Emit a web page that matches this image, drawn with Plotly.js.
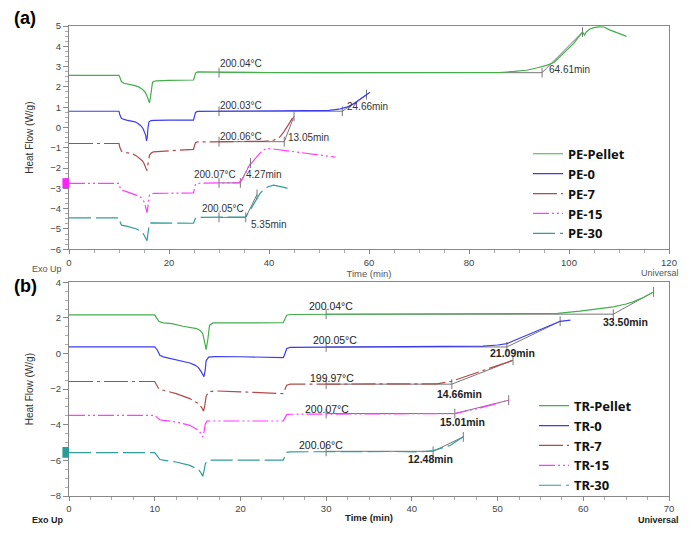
<!DOCTYPE html>
<html>
<head>
<meta charset="utf-8">
<script src="https://cdn.plot.ly/plotly-3.0.1.min.js"></script>
<style>
  body { margin: 0; background: #fff; }
  #dsc { width: 695px; height: 537px; }
</style>
</head>
<body>
<div id="dsc"></div>
<script>
// (a) PE samples : time (min) / heat flow (W/g)
var peNames = ['PE-Pellet', 'PE-0', 'PE-7', 'PE-15', 'PE-30'];
var pePelletX = [0, 10, 10.2, 10.5, 11, 12, 12.5, 13.2, 13.9, 14.6, 15.2, 15.6, 15.9, 16.1, 16.3, 16.5, 16.7, 17.0, 17.5, 20, 24.9, 25.1, 25.3, 25.7, 30, 40, 50, 60, 70, 80, 86, 89, 91.5, 93.5, 95.5, 97, 98.2, 99.5, 100.9, 102, 102.7, 103.1, 103.5, 104.2, 105, 106, 107, 108, 109.5, 111.5];
var pePelletY = [2.57, 2.57, 2.45, 2.25, 2.18, 2.15, 2.1, 2.06, 2.0, 1.9, 1.75, 1.55, 1.34, 1.21, 1.5, 1.95, 2.22, 2.28, 2.3, 2.32, 2.34, 2.5, 2.68, 2.74, 2.72, 2.71, 2.7, 2.7, 2.69, 2.69, 2.71, 2.76, 2.82, 2.93, 3.06, 3.2, 3.47, 3.8, 4.13, 4.45, 4.7, 4.55, 4.72, 4.85, 4.92, 4.96, 4.95, 4.82, 4.68, 4.49];
var pe0X = [0, 10, 10.2, 10.5, 11.5, 12.5, 13.2, 13.8, 14.3, 14.8, 15.1, 15.35, 15.5, 15.65, 15.8, 16.0, 16.4, 17, 20, 24.9, 25.1, 25.3, 25.7, 30, 40, 48, 52, 54, 55.5, 57, 58.5, 60.2];
var pe0Y = [0.8, 0.8, 0.6, 0.44, 0.36, 0.32, 0.28, 0.2, 0.1, -0.05, -0.2, -0.4, -0.66, -0.5, 0.0, 0.28, 0.34, 0.35, 0.36, 0.36, 0.55, 0.74, 0.79, 0.8, 0.8, 0.81, 0.84, 0.9, 1.0, 1.17, 1.43, 1.74];
var pe7X = [0, 10, 10.2, 10.5, 11.5, 12.5, 13.5, 14.2, 14.7, 15.0, 15.3, 15.6, 15.8, 16.1, 16.5, 16.9, 20, 24.9, 25.1, 25.3, 25.7, 30, 35, 39, 41, 42.2, 43, 43.7, 44.3, 44.9, 45.2];
var pe7Y = [-0.79, -0.79, -1.0, -1.17, -1.24, -1.28, -1.4, -1.53, -1.65, -1.77, -1.95, -2.13, -1.8, -1.36, -1.25, -1.2, -1.15, -1.08, -0.9, -0.75, -0.71, -0.7, -0.7, -0.68, -0.62, -0.46, -0.2, 0.05, 0.3, 0.55, 0.6];
var pe15X = [0, 10, 10.2, 10.5, 11.5, 12.5, 13.5, 14.2, 14.7, 15.0, 15.3, 15.6, 15.8, 16.1, 16.5, 17, 20, 24.9, 25.1, 25.3, 25.7, 30, 33, 34, 34.5, 35.2, 35.9, 36.7, 37.5, 38.2, 38.9, 39.5, 40.5, 43, 46.2, 50, 53.3];
var pe15Y = [-2.75, -2.75, -2.95, -3.08, -3.16, -3.25, -3.33, -3.41, -3.52, -3.66, -3.9, -4.2, -3.85, -3.33, -3.27, -3.25, -3.24, -3.22, -3.0, -2.8, -2.75, -2.74, -2.73, -2.72, -2.59, -2.3, -1.93, -1.68, -1.44, -1.26, -1.11, -1.03, -1.05, -1.13, -1.25, -1.35, -1.46];
var pe30X = [0, 10, 10.2, 10.5, 11.5, 12.5, 13.5, 14.2, 14.7, 15.0, 15.3, 15.6, 15.8, 16.1, 16.5, 17, 20, 24.9, 25.1, 25.3, 25.7, 30, 34, 35.3, 35.8, 36.5, 37.2, 38.2, 39, 39.8, 40.9, 42, 43, 44.2];
var pe30Y = [-4.45, -4.45, -4.65, -4.81, -4.86, -4.92, -5.0, -5.09, -5.18, -5.3, -5.45, -5.58, -5.2, -4.72, -4.7, -4.7, -4.71, -4.72, -4.58, -4.47, -4.43, -4.43, -4.43, -4.4, -4.25, -3.95, -3.65, -3.25, -3.05, -2.92, -2.84, -2.88, -2.95, -3.03];

// onset analysis (a) : isothermal start at 30 min
var peTemp = ['200.04°C', '200.03°C', '200.06°C', '200.07°C', '200.05°C'];
var peOnsetMin = [64.61, 24.66, 13.05, 4.27, 5.35];
var peBase = [2.7, 0.8, -0.7, -2.73, -4.43];
var peTanEndX = [102.7, 59.5, 45.0, 36.3, 37.6];
var peTanEndY = [4.7, 1.62, 0.55, -1.75, -3.3];

// (b) TR samples
var trNames = ['TR-Pellet', 'TR-0', 'TR-7', 'TR-15', 'TR-30'];
var trPelletX = [0, 10, 10.2, 10.5, 11, 12, 13.3, 14.2, 14.9, 15.3, 15.6, 15.8, 16.0, 16.2, 16.4, 16.8, 17.5, 20, 25.0, 25.2, 25.4, 25.8, 30, 40, 50, 55, 57, 59.6, 61.5, 63.5, 65, 65.8, 67, 68.2];
var trPelletY = [2.17, 2.17, 2.0, 1.8, 1.72, 1.68, 1.53, 1.48, 1.4, 1.3, 1.12, 0.7, 0.22, 0.8, 1.59, 1.72, 1.72, 1.72, 1.73, 1.95, 2.15, 2.19, 2.2, 2.2, 2.21, 2.22, 2.25, 2.38, 2.48, 2.62, 2.78, 2.9, 3.15, 3.46];
var tr0X = [0, 10, 10.3, 10.6, 11, 12.5, 14.1, 14.7, 15.1, 15.4, 15.6, 15.75, 15.9, 16.0, 16.3, 17, 20, 25.0, 25.2, 25.4, 25.8, 30, 40, 46, 48.3, 50, 51.1, 53.4, 55.7, 57.3, 58.5];
var tr0Y = [0.37, 0.37, 0.2, -0.1, -0.19, -0.34, -0.53, -0.65, -0.79, -1.0, -1.2, -1.3, -0.9, -0.4, -0.2, -0.17, -0.18, -0.23, 0.0, 0.28, 0.34, 0.35, 0.36, 0.37, 0.41, 0.48, 0.56, 1.03, 1.5, 1.81, 1.87];
var tr7X = [0, 10, 10.2, 10.5, 11, 12.5, 14.1, 15.1, 15.5, 15.7, 15.85, 16.0, 16.3, 17, 20, 25.0, 25.2, 25.4, 25.8, 30, 40, 42.9, 44.6, 46, 48, 50, 51.8];
var tr7Y = [-1.57, -1.57, -1.75, -2.0, -2.06, -2.25, -2.53, -2.81, -3.05, -3.24, -2.9, -2.4, -2.15, -2.1, -2.15, -2.25, -2.0, -1.78, -1.72, -1.72, -1.72, -1.7, -1.56, -1.33, -0.99, -0.68, -0.38];
var tr15X = [0, 10, 10.3, 10.6, 11, 12.5, 14.1, 15.1, 15.4, 15.6, 15.75, 15.9, 16.1, 16.5, 20, 25.0, 25.2, 25.4, 25.8, 30, 40, 45, 48, 51.3];
var tr15Y = [-3.47, -3.47, -3.6, -3.72, -3.75, -3.84, -4.03, -4.31, -4.5, -4.69, -4.4, -3.95, -3.8, -3.79, -3.79, -3.79, -3.6, -3.43, -3.41, -3.39, -3.38, -3.37, -3.05, -2.62];
var tr30X = [0, 10, 10.3, 10.6, 11, 12.5, 14.1, 15.1, 15.4, 15.6, 15.75, 15.9, 16.1, 16.5, 20, 25.0, 25.2, 25.4, 25.8, 30, 38, 41, 42.5, 44.5, 46];
var tr30Y = [-5.56, -5.56, -5.75, -5.95, -5.99, -6.09, -6.28, -6.52, -6.7, -6.89, -6.6, -6.2, -6.05, -5.99, -5.99, -5.99, -5.75, -5.55, -5.52, -5.5, -5.5, -5.52, -5.45, -5.15, -4.68];

var trTemp = ['200.04°C', '200.05°C', '199.97°C', '200.07°C', '200.06°C'];
var trOnsetMin = [33.50, 21.09, 14.66, 15.01, 12.48];
var trBase = [2.21, 0.37, -1.72, -3.37, -5.49];
var trTanEndX = [68.2, 57.3, 51.8, 51.3, 46.0];
var trTanEndY = [3.46, 1.81, -0.38, -2.62, -4.68];

var isoStart = 30;

// styles
var couleurs = ['#44ad4c', '#3c3cf2', '#b04a4a', '#ff3cff', '#329c9c'];
var tirets = ['solid', 'solid', '24px,4px,3px,4px', '16px,3px,2px,3px,2px,3px', '22px,5px'];

// label centres (data coords), kept apart from the values
var peTempPos = [[34.4, 3.15], [34.4, 1.1], [34.4, -0.43], [29.2, -2.3], [30.7, -3.99]];
var peOnsetPos = [[100, 2.87], [59.7, 1.05], [47.8, -0.48], [39, -2.3], [39.9, -4.76]];
var trTempPos = [[30.6, 2.67], [31.0, 0.75], [30.7, -1.35], [30.1, -3.09], [29.4, -5.11]];
var trOnsetPos = [[64.9, 1.76], [51.7, 0.03], [45.6, -2.25], [45.9, -3.84], [42.2, -5.9]];

var police = 'Liberation Sans, Arial, sans-serif';

var courbe = function(x, y, i, noms, xa, ya, leg) {
  return {
    x: x, y: y, name: noms[i], type: 'scatter', mode: 'lines',
    line: { color: couleurs[i], width: 1.2, dash: tirets[i] },
    xaxis: xa, yaxis: ya, legend: leg
  };
}

// gray baseline + tangent with the little tick marks
var tangente = function(onset, base, endX, endY, xa, ya) {
  return {
    x: [isoStart, isoStart + onset, endX],
    y: [base, base, endY],
    type: 'scatter', mode: 'lines+markers', showlegend: false,
    line: { color: '#777', width: 1 },
    marker: { symbol: 'line-ns-open', size: 7, line: { color: '#555', width: 1 } },
    xaxis: xa, yaxis: ya
  };
}

var data = [];
for (let i = 0; i < 5; i++) {
  data.push(tangente(peOnsetMin[i], peBase[i], peTanEndX[i], peTanEndY[i], 'x', 'y'));
  data.push(tangente(trOnsetMin[i], trBase[i], trTanEndX[i], trTanEndY[i], 'x2', 'y2'));
}
var peX = [pePelletX, pe0X, pe7X, pe15X, pe30X];
var peY = [pePelletY, pe0Y, pe7Y, pe15Y, pe30Y];
var trX = [trPelletX, tr0X, tr7X, tr15X, tr30X];
var trY = [trPelletY, tr0Y, tr7Y, tr15Y, tr30Y];
for (let i = 0; i < 5; i++) {
  data.push(courbe(peX[i], peY[i], i, peNames, 'x', 'y', 'legend'));
}
for (let i = 0; i < 5; i++) {
  data.push(courbe(trX[i], trY[i], i, trNames, 'x2', 'y2', 'legend2'));
}

var annots = [];
var petit = { family: police, size: 10, color: '#333' };
for (let i = 0; i < 5; i++) {
  annots.push({ xref: 'x', yref: 'y', x: peTempPos[i][0], y: peTempPos[i][1], text: peTemp[i], showarrow: false, font: petit });
  annots.push({ xref: 'x', yref: 'y', x: peOnsetPos[i][0], y: peOnsetPos[i][1], text: peOnsetMin[i].toFixed(2) + 'min', showarrow: false, font: petit });
  annots.push({ xref: 'x2', yref: 'y2', x: trTempPos[i][0], y: trTempPos[i][1], text: trTemp[i], showarrow: false, font: { family: police, size: 10.5, color: '#222' } });
  annots.push({ xref: 'x2', yref: 'y2', x: trOnsetPos[i][0], y: trOnsetPos[i][1], text: trOnsetMin[i].toFixed(2) + 'min', showarrow: false, font: { family: police, size: 10.5, color: '#222', weight: 'bold' } });
}
var coin = function(txt, x, y, anchor, gras) {
  return { xref: 'paper', yref: 'paper', x: x, y: y, xanchor: anchor, yanchor: 'middle', text: txt, showarrow: false,
    font: { family: police, size: 9, color: gras ? '#222' : '#555', weight: gras ? 'bold' : 'normal' } };
}
annots.push(coin('Exo Up', -0.065, 0.482, 'left', false));
annots.push(coin('Universal', 1.02, 0.474, 'right', false));
annots.push(coin('Exo Up', -0.065, -0.05, 'left', true));
annots.push(coin('Universal', 1.02, -0.05, 'right', true));
annots.push({ xref: 'paper', yref: 'paper', x: -0.095, y: 1.017, xanchor: 'left', yanchor: 'middle', text: '(a)', showarrow: false,
  font: { family: police, size: 18, color: '#000', weight: 'bold' } });
annots.push({ xref: 'paper', yref: 'paper', x: -0.095, y: 0.446, xanchor: 'left', yanchor: 'middle', text: '(b)', showarrow: false,
  font: { family: police, size: 18, color: '#000', weight: 'bold' } });

var axeX = function(range, dtick, minor, anchor, gras) {
  return {
    range: range, dtick: dtick, anchor: anchor, showgrid: false, zeroline: false,
    showline: true, mirror: true, linecolor: '#888', linewidth: 1,
    ticks: 'outside', ticklen: 4, tickcolor: '#888',
    minor: { dtick: minor, ticks: 'outside', ticklen: 3, tickcolor: '#aaa' },
    tickfont: { family: police, size: 9.5, color: '#444' },
    title: { text: 'Time (min)', standoff: 0,
      font: { family: police, size: 9.5, color: gras ? '#222' : '#555', weight: gras ? 'bold' : 'normal' } }
  };
}
var axeY = function(range, dtick, minor, domain, anchor) {
  return {
    range: range, dtick: dtick, domain: domain, anchor: anchor, showgrid: false, zeroline: false,
    showline: true, mirror: true, linecolor: '#888', linewidth: 1,
    ticks: 'outside', ticklen: 5, tickcolor: '#888',
    minor: { dtick: minor, ticks: 'outside', ticklen: 3, tickcolor: '#aaa' },
    tickfont: { family: police, size: 9.5, color: '#444' },
    title: { text: 'Heat Flow (W/g)', standoff: 14,
      font: { family: police, size: 10, color: '#333' } }
  };
}

var legende = function(x, y) {
  return {
    x: x, y: y, xanchor: 'left', yanchor: 'middle', bgcolor: 'rgba(0,0,0,0)',
    font: { family: 'Noto Sans, DejaVu Sans, sans-serif', size: 13, color: '#111', weight: 'bold' },
    itemwidth: 30, tracegroupgap: 0
  };
}

var layout = {
  width: 695, height: 537,
  margin: { l: 69, r: 26, t: 26, b: 41 },
  paper_bgcolor: '#fff', plot_bgcolor: '#fff',
  xaxis: axeX([0, 120], 20, 5, 'y', false),
  yaxis: axeY([-6, 5], 1, 0.25, [0.525, 1], 'x'),
  xaxis2: axeX([0, 70], 10, 2.5, 'y2', true),
  yaxis2: axeY([-8, 4], 2, 0.5, [0, 0.4547], 'x2'),
  legend: legende(0.765, 0.643),
  legend2: legende(0.775, 0.107),
  annotations: annots,
  shapes: [
    { type: 'rect', xref: 'paper', yref: 'y', x0: -0.011, x1: 0, y0: -3.0, y1: -2.5, fillcolor: '#ff22ff', line: { width: 0 } },
    { type: 'rect', xref: 'paper', yref: 'y2', x0: -0.011, x1: 0, y0: -5.85, y1: -5.25, fillcolor: '#2a9a9a', line: { width: 0 } }
  ]
};

Plotly.newPlot('dsc', data, layout, { displayModeBar: false, staticPlot: true });
</script>
</body>
</html>
